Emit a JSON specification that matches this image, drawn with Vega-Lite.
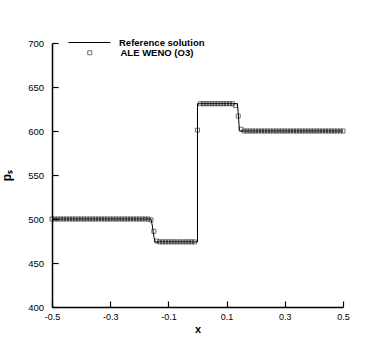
{
  "$schema": "https://vega.github.io/schema/vega-lite/v6.json",
  "autosize": {"type": "none"},
  "padding": {"left": 52, "top": 43, "right": 47, "bottom": 40},
  "width": 291,
  "height": 264,
  "background": "white",
  "config": {
    "view": {"stroke": null},
    "axis": {
      "grid": false, "domain": true, "ticks": true,
      "domainColor": "black", "domainWidth": 1.5, "tickColor": "black", "tickSize": -6, "tickWidth": 1.2,
      "labelFont": "Liberation Sans", "labelColor": "black", "labelFlush": false, "labelOverlap": false,
      "titleFont": "Liberation Sans", "titleColor": "black", "titleFontWeight": "bold"
    },
    "axisX": {"labelFontSize": 9, "labelPadding": 11.5, "titleFontSize": 11, "titlePadding": 2},
    "axisY": {"labelFontSize": 9.5, "labelPadding": 14.4, "titleFontSize": 12, "titlePadding": 14},
    "legend": {"labelFont": "Liberation Sans", "labelColor": "black"}
  },
  "datasets": {
    "ref": [
      {"x": -0.5, "p": 500}, {"x": -0.16, "p": 500}, {"x": -0.155, "p": 492}, {"x": -0.15, "p": 480},
      {"x": -0.146, "p": 474}, {"x": 0, "p": 474}, {"x": 0, "p": 631}, {"x": 0.137, "p": 631},
      {"x": 0.14, "p": 620}, {"x": 0.144, "p": 601}, {"x": 0.148, "p": 600}, {"x": 0.5, "p": 600}
    ],
    "weno": [
      {"x": -0.5, "p": 500}, {"x": -0.49, "p": 500}, {"x": -0.48, "p": 500}, {"x": -0.47, "p": 500}, {"x": -0.46, "p": 500},
      {"x": -0.45, "p": 500}, {"x": -0.44, "p": 500}, {"x": -0.43, "p": 500}, {"x": -0.42, "p": 500}, {"x": -0.41, "p": 500},
      {"x": -0.4, "p": 500}, {"x": -0.39, "p": 500}, {"x": -0.38, "p": 500}, {"x": -0.37, "p": 500}, {"x": -0.36, "p": 500},
      {"x": -0.35, "p": 500}, {"x": -0.34, "p": 500}, {"x": -0.33, "p": 500}, {"x": -0.32, "p": 500}, {"x": -0.31, "p": 500},
      {"x": -0.3, "p": 500}, {"x": -0.29, "p": 500}, {"x": -0.28, "p": 500}, {"x": -0.27, "p": 500}, {"x": -0.26, "p": 500},
      {"x": -0.25, "p": 500}, {"x": -0.24, "p": 500}, {"x": -0.23, "p": 500}, {"x": -0.22, "p": 500}, {"x": -0.21, "p": 500},
      {"x": -0.2, "p": 500}, {"x": -0.19, "p": 500}, {"x": -0.18, "p": 500}, {"x": -0.17, "p": 500}, {"x": -0.16, "p": 499},
      {"x": -0.15, "p": 486}, {"x": -0.14, "p": 475}, {"x": -0.13, "p": 474}, {"x": -0.12, "p": 474}, {"x": -0.11, "p": 474},
      {"x": -0.1, "p": 474}, {"x": -0.09, "p": 474}, {"x": -0.08, "p": 474}, {"x": -0.07, "p": 474}, {"x": -0.06, "p": 474},
      {"x": -0.05, "p": 474}, {"x": -0.04, "p": 474}, {"x": -0.03, "p": 474}, {"x": -0.02, "p": 474}, {"x": -0.01, "p": 474},
      {"x": 0, "p": 601}, {"x": 0.01, "p": 631}, {"x": 0.02, "p": 631}, {"x": 0.03, "p": 631}, {"x": 0.04, "p": 631},
      {"x": 0.05, "p": 631}, {"x": 0.06, "p": 631}, {"x": 0.07, "p": 631}, {"x": 0.08, "p": 631}, {"x": 0.09, "p": 631},
      {"x": 0.1, "p": 631}, {"x": 0.11, "p": 631}, {"x": 0.12, "p": 631}, {"x": 0.13, "p": 629}, {"x": 0.14, "p": 617},
      {"x": 0.15, "p": 602}, {"x": 0.16, "p": 600}, {"x": 0.17, "p": 600}, {"x": 0.18, "p": 600}, {"x": 0.19, "p": 600},
      {"x": 0.2, "p": 600}, {"x": 0.21, "p": 600}, {"x": 0.22, "p": 600}, {"x": 0.23, "p": 600}, {"x": 0.24, "p": 600},
      {"x": 0.25, "p": 600}, {"x": 0.26, "p": 600}, {"x": 0.27, "p": 600}, {"x": 0.28, "p": 600}, {"x": 0.29, "p": 600},
      {"x": 0.3, "p": 600}, {"x": 0.31, "p": 600}, {"x": 0.32, "p": 600}, {"x": 0.33, "p": 600}, {"x": 0.34, "p": 600},
      {"x": 0.35, "p": 600}, {"x": 0.36, "p": 600}, {"x": 0.37, "p": 600}, {"x": 0.38, "p": 600}, {"x": 0.39, "p": 600},
      {"x": 0.4, "p": 600}, {"x": 0.41, "p": 600}, {"x": 0.42, "p": 600}, {"x": 0.43, "p": 600}, {"x": 0.44, "p": 600},
      {"x": 0.45, "p": 600}, {"x": 0.46, "p": 600}, {"x": 0.47, "p": 600}, {"x": 0.48, "p": 600}, {"x": 0.49, "p": 600},
      {"x": 0.5, "p": 600}
    ]
  },
  "layer": [
    {
      "data": {"name": "ref"},
      "mark": {"type": "line", "strokeWidth": 1, "interpolate": "linear"},
      "encoding": {
        "x": {"field": "x", "type": "quantitative", "scale": {"domain": [-0.5, 0.5], "nice": false, "zero": false},
          "axis": {"orient": "bottom", "values": [-0.5,-0.4,-0.3,-0.2,-0.1,0,0.1,0.2,0.3,0.4,0.5], "labelExpr": "'' + datum.value", "title": "x"}},
        "y": {"field": "p", "type": "quantitative", "scale": {"domain": [400, 700], "nice": false, "zero": false},
          "axis": {"orient": "left", "values": [400,450,500,550,600,650,700], "title": "pₛ"}},
        "color": {"datum": "Reference solution", "type": "nominal", "scale": {"range": ["black"]},
          "legend": {"orient": "none", "legendX": 16, "legendY": -22, "title": null, "padding": 0, "symbolType": "stroke", "symbolSize": 1764, "symbolStrokeWidth": 1, "labelFontSize": 9.5, "labelFontWeight": "bold", "labelOffset": 8}}
      }
    },
    {
      "data": {"name": "weno"},
      "mark": {"type": "point", "shape": "square", "filled": false, "size": 16, "strokeWidth": 0.8, "color": "black"},
      "encoding": {
        "x": {"field": "x", "type": "quantitative"},
        "y": {"field": "p", "type": "quantitative"},
        "shape": {"datum": "ALE WENO (O3)", "type": "nominal", "scale": {"range": ["square"]},
          "legend": {"orient": "none", "legendX": 33, "legendY": 5, "title": null, "padding": 0, "symbolSize": 16, "symbolStrokeColor": "black", "symbolStrokeWidth": 0.8, "labelFontSize": 9.5, "labelFontWeight": "bold", "labelOffset": 26}}
      }
    }
  ]
}
